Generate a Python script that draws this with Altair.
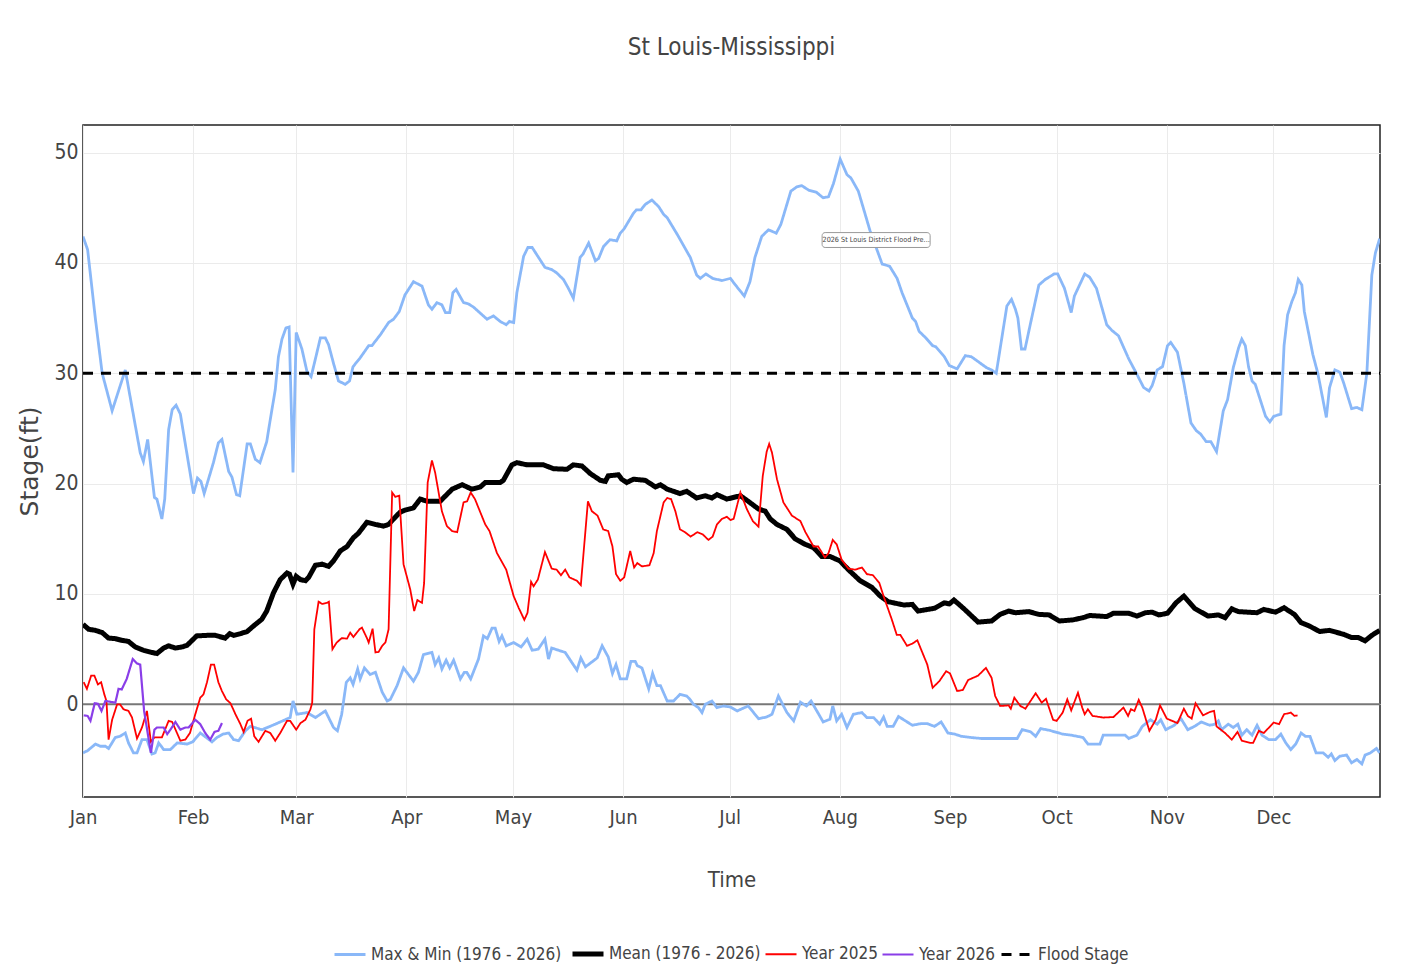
import altair as alt
import pandas as pd

# ---------------- data (day of year, 0 = Jan 1; leap-year calendar) ----------------
MAX_DAYS = [0, 1.3, 3.5, 5.4, 8.2, 11.9, 16.1, 17.0, 18.2, 20.1, 20.8, 22.2, 23.0, 24.1, 25.1, 26.2, 27.4,
            31.1, 32.2, 33.2, 34.1, 36.7, 38.1, 39.1, 41.0, 41.9, 43.2, 44.1, 46.2, 47.1, 48.5, 49.8, 51.7,
            52.7, 54.1, 55.0, 56.0, 57.1, 58.0, 59.1, 60.0, 61.6, 63.0, 64.2, 65.4, 66.8, 68.2, 69.1, 70.5,
            71.9, 73.8, 75.0, 76.0, 78.0, 80.4, 81.3, 83.7, 86.0, 87.4, 89.0, 90.6, 93.0, 95.4, 97.2, 98.2,
            99.6, 101.0, 102.0, 103.2, 104.1, 105.0, 107.1, 108.4, 109.9, 113.7, 115.5, 117.4, 119.1, 120.0,
            121.2, 122.1, 124.0, 125.2, 126.4, 130.0, 131.9, 133.3, 135.2, 136.6, 138.0, 139.9, 140.7, 142.3,
            144.2, 145.1, 146.5, 148.3, 150.2, 151.2, 152.3, 154.9, 155.7, 157.0, 158.2, 160.1, 162.0, 163.4,
            164.4, 167.2, 170.9, 172.7, 173.7, 175.3, 177.2, 179.8, 182.2, 183.6, 186.1, 187.7, 189.1, 191.0,
            192.9, 195.1, 196.4, 199.2, 200.9, 202.3, 204.2, 206.4, 208.3, 209.8, 211.2, 213.1, 215.0, 216.1,
            218.2, 221.5, 224.9, 227.0, 229.1, 230.5, 233.4, 234.3, 235.3, 237.2, 239.1, 240.0, 242.4, 243.8,
            246.0, 248.3, 250.0, 254.3, 255.7, 257.0, 260.0, 261.3, 262.4, 263.1, 264.1, 265.1, 266.7, 269.0,
            270.8, 273.3, 274.3, 276.2, 278.1, 279.0, 281.9, 283.3, 285.2, 288.1, 289.5, 291.4, 294.3, 296.6,
            298.5, 300.0, 300.9, 302.3, 303.8, 305.2, 306.1, 308.0, 309.8, 311.8, 313.3, 314.5, 316.1, 317.4,
            319.0, 320.9, 322.1, 323.7, 325.2, 326.1, 327.1, 328.0, 329.0, 329.9, 332.8, 334.0, 335.1, 337.1,
            338.0, 339.0, 340.2, 341.2, 342.0, 343.0, 343.7, 346.1, 347.5, 349.9, 350.8, 352.3, 353.7, 354.8,
            357.0, 358.5, 359.9, 361.3, 362.7, 363.7, 364.9]
MAX_VALS = [42.4, 41.2, 34.9, 30.0, 26.6, 30.3, 22.8, 22.0, 24.0, 18.75, 18.6, 16.8, 18.6, 24.9, 26.7, 27.1, 26.3,
            19.1, 20.5, 20.2, 19.1, 21.9, 23.7, 24.0, 21.1, 20.6, 19.0, 18.9, 23.6, 23.6, 22.2, 21.9, 23.8,
            25.8, 28.5, 31.5, 33.1, 34.1, 34.2, 21.0, 33.7, 32.2, 30.2, 29.7, 31.3, 33.2, 33.2, 32.6, 30.9,
            29.3, 29.0, 29.3, 30.6, 31.4, 32.5, 32.5, 33.5, 34.6, 34.9, 35.6, 37.1, 38.3, 37.9, 36.2, 35.8,
            36.4, 36.2, 35.5, 35.5, 37.3, 37.6, 36.4, 36.3, 36.0, 34.9, 35.2, 34.7, 34.4, 34.7,
            34.6, 37.3, 40.6, 41.4, 41.4, 39.6, 39.4, 39.1, 38.5, 37.7, 36.8, 40.5, 40.8, 41.8,
            40.2, 40.4, 41.5, 42.1, 42.0, 42.7, 43.1, 44.5, 44.8, 44.8, 45.3, 45.7, 45.1, 44.4,
            44.1, 42.6, 40.5, 38.9, 38.6, 39.0, 38.6, 38.4, 38.6, 38.0, 37.0, 38.3, 40.5, 42.4,
            43.0, 42.7, 43.5, 46.5, 46.9, 47.0, 46.6, 46.4, 45.9, 46.0, 47.2, 49.4, 48.0, 47.7,
            46.5, 42.9, 39.9, 39.7, 38.6, 37.3, 35.0, 34.7, 33.8, 33.2, 32.5, 32.4, 31.5, 30.7,
            30.4, 31.6, 31.5, 30.5, 30.3, 30.0, 36.1, 36.7, 35.8, 35.0, 32.2, 32.2, 34.6, 38.0,
            38.5, 39.0, 39.0, 37.7, 35.5, 37.0, 39.0, 38.7, 37.7, 34.4, 33.9, 33.4, 31.3, 29.9,
            28.7, 28.4, 28.9, 30.3, 30.6, 32.5, 32.8, 31.9, 29.1, 25.5, 24.8, 24.5, 23.8, 23.8,
            22.9, 26.6, 27.6, 30.5, 32.3, 33.1, 32.5, 30.6, 29.3, 29.0, 26.1, 25.6, 26.1, 26.3,
            32.5, 35.3, 36.5, 37.3, 38.5, 38.0, 35.6, 31.7, 30.0, 26.0, 28.7, 30.3, 30.1, 29.1,
            26.8, 26.9, 26.7, 30.0, 38.9, 40.9, 42.2]

MIN_DAYS = [0, 1.3, 3.5, 4.9, 6.3, 7.2, 9.1, 10.4, 11.9, 12.8, 14.2, 15.2, 16.6, 18.0, 19.4, 20.3, 21.3, 22.7,
            24.6, 26.5, 29.3, 30.9, 33.0, 36.3, 37.7, 39.4, 41.0, 42.4, 43.8, 45.7, 47.1, 50.4, 54.1, 56.9,
            58.3, 59.1, 60.2, 63.0, 65.4, 68.2, 70.5, 71.6, 72.8, 74.1, 75.2, 76.0, 77.3, 78.0, 79.2, 80.8,
            82.3, 84.2, 85.6, 86.5, 88.4, 90.2, 93.0, 94.4, 95.8, 98.2, 99.1, 100.1, 101.0, 102.2, 103.2,
            104.3, 106.2, 107.3, 108.0, 109.1, 111.3, 112.7, 113.8, 115.1, 116.0, 117.1, 117.9, 119.1, 121.2,
            123.3, 125.0, 126.4, 128.1, 130.0, 131.0, 131.9, 135.7, 139.0, 140.1, 141.4, 144.7, 146.1, 147.8,
            149.0, 150.0, 151.2, 153.0, 154.2, 155.4, 156.0, 157.3, 159.2, 160.3, 161.5, 162.5, 164.4, 166.2,
            168.0, 169.9, 170.8, 171.8, 173.2, 174.2, 175.1, 177.0, 178.4, 180.3, 182.2, 184.1, 187.2, 190.1,
            192.4, 193.9, 195.7, 198.1, 200.0, 201.9, 203.6, 204.9, 208.3, 210.2, 211.0, 212.1, 213.5, 215.0,
            216.8, 219.2, 220.6, 222.5, 224.2, 225.3, 226.3, 228.0, 229.5, 233.4, 235.8, 237.6, 239.6, 241.5,
            243.4, 245.3, 247.2, 249.6, 252.9, 262.9, 264.3, 266.7, 268.1, 269.5, 271.9, 275.7, 278.1, 281.4,
            282.8, 286.2, 287.1, 293.3, 294.3, 296.6, 298.1, 300.4, 302.3, 303.3, 304.7, 307.1, 309.0, 310.9,
            312.8, 314.7, 317.1, 318.5, 319.5, 320.4, 322.3, 323.7, 325.0, 326.1, 327.5, 329.0, 330.4, 331.8,
            333.7, 335.6, 337.1, 338.5, 339.9, 341.3, 342.8, 344.0, 345.3, 347.0, 349.0, 350.4, 351.3, 352.3,
            353.7, 355.6, 357.0, 358.5, 359.9, 360.8, 362.3, 364.0, 364.9]
MIN_VALS = [-4.4, -4.2, -3.6, -3.8, -3.8, -4.0, -3.0, -2.9, -2.6, -3.5, -4.4, -4.4, -3.2, -3.2, -4.5, -4.4, -3.5, -4.1,
            -4.1, -3.5, -3.6, -3.4, -2.6, -3.4, -3.0, -2.7, -2.6, -3.2, -3.3, -2.4, -2.0, -2.3, -1.8, -1.4,
            -1.2, 0.3, -0.9, -0.75, -1.2, -0.6, -2.1, -2.4, -0.9, 2.0, 2.4, 1.8, 3.2, 2.3, 3.3, 2.7,
            2.9, 1.1, 0.3, 0.45, 1.7, 3.3, 2.1, 2.9, 4.5, 4.7, 3.6, 4.2, 3.2, 4.0, 3.3,
            4.0, 2.3, 2.9, 2.9, 2.3, 4.1, 6.2, 5.95, 6.9, 6.9, 5.7, 6.2, 5.3, 5.6,
            5.2, 5.9, 4.9, 5.0, 5.9, 4.1, 5.1, 4.7, 3.1, 4.2, 3.4, 4.2, 5.3, 4.3,
            2.8, 3.6, 2.3, 2.3, 3.9, 3.9, 3.5, 3.3, 1.4, 2.8, 1.7, 1.7, 0.3, 0.3,
            0.9, 0.75, 0.45, 0.0, -0.3, -0.75, 0.0, 0.3, -0.3, -0.15, -0.25, -0.6, -0.15, -1.3,
            -1.15, -0.9, 0.75, -0.75, -1.5, 0.2, -0.15, 0.3, -1.6, -1.35, -0.15, -1.5, -0.9, -2.1,
            -0.9, -0.75, -1.2, -1.2, -1.8, -1.15, -2.0, -2.0, -1.1, -1.9, -1.75, -1.75, -2.0, -1.6,
            -2.6, -2.7, -2.9, -3.0, -3.1, -3.1, -2.3, -2.5, -2.9, -2.2, -2.35, -2.7, -2.8, -3.0,
            -3.6, -3.6, -2.8, -2.8, -3.1, -2.8, -2.0, -1.4, -1.8, -1.4, -2.3, -1.9, -1.3, -2.3,
            -2.0, -1.6, -1.9, -1.8, -1.5, -2.3, -1.8, -2.1, -1.8, -2.8, -2.3, -2.8, -1.9, -2.8,
            -3.2, -3.2, -2.7, -3.5, -4.1, -3.6, -2.6, -2.9, -2.9, -4.4, -4.4, -4.8, -4.5, -5.1,
            -4.7, -4.6, -5.3, -5.0, -5.4, -4.6, -4.4, -4.0, -4.4]

MEAN_DAYS = [0, 1.6, 3.5, 5.4, 7.2, 9.1, 10.9, 12.8, 14.7, 17.0, 19.4, 20.8, 22.7, 24.1, 26.0, 27.9, 29.3, 32.0,
             34.9, 37.2, 40.0, 41.3, 42.4, 44.3, 46.2, 48.0, 50.3, 51.7, 53.6, 55.5, 57.4, 58.1, 59.1, 60.0,
             61.2, 62.6, 63.5, 65.4, 67.3, 69.1, 70.5, 72.4, 74.3, 76.1, 77.5, 79.9, 82.3, 84.6, 86.0, 87.4,
             89.2, 90.6, 93.0, 94.9, 96.8, 100.5, 103.9, 106.7, 109.4, 111.8, 113.2, 117.4, 118.3, 120.7, 122.1,
             125.0, 129.6, 132.4, 136.2, 138.0, 140.4, 142.8, 145.6, 147.0, 147.8, 150.7, 151.6, 153.0, 154.9,
             158.2, 161.1, 162.5, 164.4, 168.0, 169.9, 172.7, 175.1, 177.0, 178.4, 181.2, 185.0, 187.2, 190.1,
             192.0, 193.4, 195.3, 198.1, 200.4, 203.2, 205.6, 207.9, 210.2, 213.0, 215.4, 218.7, 222.0, 224.4,
             226.6, 231.0, 233.4, 235.0, 239.6, 242.4, 243.8, 245.1, 247.6, 249.1, 251.9, 255.7, 258.1, 260.5,
             262.4, 266.2, 269.0, 271.9, 274.8, 278.6, 281.4, 283.3, 288.1, 290.0, 294.3, 296.6, 299.0, 300.9,
             302.8, 305.2, 307.6, 309.8, 312.8, 316.6, 319.5, 321.4, 323.3, 325.2, 330.4, 332.3, 335.6, 338.0,
             340.9, 342.8, 345.1, 348.0, 350.8, 354.7, 357.0, 358.9, 360.8, 362.7, 364.9]
MEAN_VALS = [7.25, 6.8, 6.7, 6.5, 6.0, 5.95, 5.8, 5.7, 5.2, 4.9, 4.7, 4.6, 5.1, 5.3, 5.1, 5.2, 5.35, 6.2,
             6.25, 6.25, 6.0, 6.4, 6.25, 6.4, 6.6, 7.1, 7.7, 8.45, 10.1, 11.3, 11.9, 11.8, 10.9, 11.6,
             11.3, 11.2, 11.5, 12.6, 12.7, 12.5, 13.0, 13.9, 14.3, 15.1, 15.5, 16.5, 16.3, 16.15, 16.3, 16.8,
             17.4, 17.6, 17.8, 18.6, 18.4, 18.4, 19.5, 19.9, 19.5, 19.7, 20.1, 20.1, 20.3, 21.7, 21.9,
             21.7, 21.7, 21.35, 21.3, 21.7, 21.6, 20.9, 20.3, 20.2, 20.7, 20.8, 20.4, 20.1, 20.4,
             20.3, 19.7, 19.9, 19.5, 19.1, 19.3, 18.7, 18.9, 18.7, 19.0, 18.6, 18.9, 18.4, 17.7,
             17.5, 16.8, 16.3, 15.85, 15.0, 14.5, 14.2, 13.4, 13.4, 13.0, 12.2, 11.2, 10.6, 9.8,
             9.3, 9.0, 9.05, 8.45, 8.7, 9.2, 9.1, 9.45, 8.75, 8.3, 7.45, 7.55, 8.15, 8.45,
             8.3, 8.4, 8.15, 8.1, 7.55, 7.65, 7.85, 8.05, 7.95, 8.25, 8.25, 8.0, 8.3, 8.35,
             8.1, 8.25, 9.2, 9.8, 8.7, 8.0, 8.1, 7.85, 8.65, 8.4, 8.3, 8.6, 8.35, 8.75,
             8.15, 7.4, 7.1, 6.6, 6.7, 6.35, 6.05, 6.05, 5.75, 6.25, 6.7]

Y2025_DAYS = [0.2, 1.1, 2.3, 3.2, 4.2, 5.1, 6.0, 6.6, 7.2, 8.2, 9.6, 10.4, 11.4, 12.8, 13.8, 15.2, 16.6, 18.0,
              19.1, 20.1, 22.2, 24.1, 25.1, 27.4, 28.8, 30.1, 31.6, 33.0, 33.9, 34.9, 36.0, 36.9, 38.1, 39.1,
              40.3, 41.5, 42.9, 44.3, 45.2, 46.3, 47.3, 48.2, 49.4, 51.3, 52.7, 54.1, 55.5, 57.4, 58.3, 60.0,
              61.2, 62.6, 64.0, 64.5, 65.1, 66.3, 67.3, 68.7, 69.2, 70.2, 71.4, 72.8, 74.3, 75.2, 76.1, 77.8,
              78.5, 79.9, 80.4, 81.5, 82.3, 83.2, 84.2, 85.1, 86.0, 87.0, 87.9, 89.0, 90.2, 92.1, 93.2, 94.1,
              95.4, 96.0, 97.0, 98.2, 99.1, 101.0, 102.4, 103.9, 105.3, 107.1, 108.1, 109.1, 110.3, 113.2, 114.4,
              116.5, 119.1, 121.2, 122.6, 124.2, 125.1, 126.1, 126.8, 128.0, 130.0, 131.9, 133.3, 134.5, 135.7,
              136.9, 139.0, 140.1, 142.1, 143.2, 144.8, 146.4, 147.8, 149.0, 150.0, 151.2, 152.3, 154.0, 155.1,
              156.0, 157.3, 159.4, 160.6, 161.5, 163.4, 164.4, 165.5, 166.7, 168.0, 169.4, 171.0, 172.9, 174.4,
              176.0, 177.2, 178.4, 179.8, 181.2, 182.2, 183.1, 185.0, 186.8, 188.5, 190.1, 191.3, 192.4, 193.1,
              193.9, 195.3, 197.1, 199.5, 201.9, 203.3, 205.6, 206.9, 208.8, 209.8, 211.0, 212.1, 213.5, 215.4,
              217.3, 219.2, 220.6, 222.3, 224.1, 225.3, 227.6, 229.0, 230.0, 231.9, 233.4, 234.8, 237.6, 239.1,
              241.0, 242.9, 244.0, 246.0, 247.6, 249.1, 251.9, 254.1, 255.7, 256.7, 258.1, 260.5, 261.1, 262.1,
              263.8, 265.2, 268.1, 269.8, 271.0, 273.0, 274.0, 275.7, 277.0, 278.1, 280.0, 281.2, 281.9, 282.8,
              284.1, 287.1, 290.0, 292.8, 294.1, 294.9, 295.9, 297.1, 298.1, 300.1, 301.9, 303.1, 305.0, 308.0,
              309.8, 310.9, 312.0, 313.1, 315.2, 317.1, 318.3, 319.0, 321.4, 323.3, 324.9, 326.1, 328.5, 329.3,
              330.9, 332.3, 335.1, 336.6, 338.0, 339.9, 340.9, 341.8]
Y2025_VALS = [2.0, 1.4, 2.6, 2.6, 1.8, 2.0, 0.9, 0.3, -3.2, -1.4, 0.0, 0.0, -0.45, -0.6, -1.2, -3.1, -2.1, -0.6,
              -3.4, -3.0, -3.0, -1.5, -1.6, -3.3, -3.2, -2.6, -0.9, 0.6, 0.9, 2.0, 3.6, 3.6, 2.0, 1.2,
              0.45, 0.1, -0.9, -1.8, -2.5, -1.5, -1.3, -2.9, -3.4, -2.4, -2.6, -3.3, -2.6, -1.5, -1.5, -2.3,
              -1.7, -1.4, -0.45, 0.15, 6.8, 9.3, 9.1, 9.2, 9.3, 5.0, 5.6, 6.0, 5.95, 6.5, 6.1, 6.8,
              6.95, 6.0, 5.6, 6.85, 4.7, 4.75, 5.3, 5.6, 6.8, 19.2, 18.8, 18.9, 12.7, 10.4, 8.45, 9.45,
              9.2, 11.0, 20.1, 22.1, 21.0, 17.5, 16.15, 15.7, 15.6, 18.3, 18.4, 19.2, 18.6, 16.3, 15.7,
              13.7, 12.2, 9.8, 8.75, 7.65, 8.3, 11.1, 10.7, 11.3, 13.8, 12.3, 12.2, 11.7, 12.2,
              11.5, 11.2, 10.8, 18.4, 17.5, 17.1, 15.85, 15.7, 14.3, 11.8, 11.2, 11.5, 13.9, 12.4,
              12.8, 12.5, 12.6, 13.7, 15.7, 18.3, 18.7, 18.6, 17.5, 15.85, 15.6, 15.2, 15.6, 15.4,
              14.9, 15.2, 16.3, 16.8, 17.0, 16.7, 16.8, 19.2, 17.7, 16.6, 16.1, 20.7, 22.9, 23.6,
              22.8, 20.4, 18.3, 17.1, 16.6, 15.6, 14.3, 14.3, 13.3, 13.7, 14.9, 14.5, 13.1, 12.3,
              12.2, 12.4, 11.8, 11.7, 11.0, 9.8, 7.7, 6.3, 6.3, 5.3, 5.5, 5.8, 3.6, 1.5,
              2.1, 3.0, 2.8, 1.2, 1.3, 2.2, 2.6, 3.3, 2.4, 0.75, -0.15, -0.1, -0.4, 0.6,
              -0.15, -0.4, 1.0, 0.15, 0.5, -1.4, -1.5, -0.75, 0.45, -0.55, 1.05, -0.3, -0.9, -0.45,
              -1.05, -1.2, -1.15, -0.3, -1.05, -0.45, -0.6, 0.4, -0.3, -2.4, -1.4, -0.1, -1.3, -1.7,
              -0.4, -1.05, -1.3, 0.1, -1.0, -0.7, -0.6, -2.0, -2.6, -3.2, -2.5, -3.3, -3.5, -3.5,
              -2.4, -2.6, -1.65, -1.8, -0.9, -0.75, -1.05, -1.0]

Y2026_DAYS = [0.2, 1.3, 2.1, 3.3, 4.2, 5.2, 6.3, 8.2, 9.1, 10.0, 10.9, 12.3, 14.0, 15.2, 16.1, 17.2, 19.1, 20.1,
              20.8, 22.7, 23.7, 24.6, 26.0, 27.4, 28.8, 29.7, 31.6, 33.0, 34.4, 35.8, 37.0, 38.1, 39.1]
Y2026_VALS = [-1.0, -1.05, -1.5, 0.1, 0.05, -0.6, 0.3, 0.2, 0.15, 1.4, 1.35, 2.3, 4.1, 3.7, 3.6, -0.6, -4.4, -2.3,
              -2.1, -2.1, -2.7, -2.3, -1.6, -2.3, -2.1, -2.1, -1.4, -1.8, -2.6, -3.2, -2.5, -2.4, -1.7]

FLOOD_STAGE = 30
FLOOD_DAYS = [0, 365]

SERIES = ["Max & Min (1976 - 2026)", "Mean (1976 - 2026)", "Year 2025", "Year 2026", "Flood Stage"]
COLORS = ["#8ab8f8", "#000000", "#ff0000", "#8a3ee8", "#000000"]
WIDTHS = [2.8, 5.0, 1.8, 2.2, 3.0]
DASHES = [[1, 0], [1, 0], [1, 0], [1, 0], [10, 8]]
MONTHS = list(range(1, 13))

NOTE_TEXT = "2026 St Louis District Flood Pre..."
NOTE_DAYS = [208.0, 238.4]
NOTE_VALS = [41.4, 42.75]

YEAR0 = pd.Timestamp("2024-01-01")
NARROW = "DejaVu Sans Condensed, Liberation Sans Narrow, sans-serif"


def to_dates(days):
    return [YEAR0 + pd.to_timedelta(d, unit="D") for d in days]


frames = []
frames.append(pd.DataFrame({"date": to_dates(MAX_DAYS), "value": MAX_VALS,
                            "series": SERIES[0], "part": "max"}))
frames.append(pd.DataFrame({"date": to_dates(MIN_DAYS), "value": MIN_VALS,
                            "series": SERIES[0], "part": "min"}))
frames.append(pd.DataFrame({"date": to_dates(MEAN_DAYS), "value": MEAN_VALS,
                            "series": SERIES[1], "part": "mean"}))
frames.append(pd.DataFrame({"date": to_dates(Y2025_DAYS), "value": Y2025_VALS,
                            "series": SERIES[2], "part": "y2025"}))
frames.append(pd.DataFrame({"date": to_dates(Y2026_DAYS), "value": Y2026_VALS,
                            "series": SERIES[3], "part": "y2026"}))
frames.append(pd.DataFrame({"date": to_dates(FLOOD_DAYS), "value": [FLOOD_STAGE] * 2,
                            "series": SERIES[4], "part": "flood"}))
df = pd.concat(frames, ignore_index=True)

note_df = pd.DataFrame({"d1": [to_dates(NOTE_DAYS)[0]], "d2": [to_dates(NOTE_DAYS)[1]],
                        "v1": [NOTE_VALS[0]], "v2": [NOTE_VALS[1]],
                        "dm": [YEAR0 + pd.to_timedelta(sum(NOTE_DAYS) / 2, unit="D")],
                        "vm": [sum(NOTE_VALS) / 2], "label": [NOTE_TEXT]})
zero_df = pd.DataFrame({"value": [0]})

x_scale = alt.Scale(domain=[alt.DateTime(year=2024, month=1, date=1),
                            alt.DateTime(year=2024, month=12, date=31)])
y_scale = alt.Scale(domain=[-8.4, 52.5], nice=False, zero=False)

x_axis = alt.Axis(values=[alt.DateTime(year=2024, month=m, date=1) for m in MONTHS],
                  format="%b", title="Time", grid=True, gridColor="#ebebeb", ticks=False,
                  domain=False, labelFlush=False, labelFont=NARROW, labelFontSize=20,
                  labelColor="#444", labelPadding=10, titleFont=NARROW, titleFontSize=22,
                  titleColor="#444", titleFontWeight="normal", titleY=89,
                  titleBaseline="alphabetic")
y_axis = alt.Axis(values=[0, 10, 20, 30, 40, 50], title="Stage(ft)", grid=True, gridColor="#ebebeb",
                  ticks=False, domain=False, labelFont=NARROW, labelFontSize=21, labelColor="#444",
                  labelPadding=5, titleFont="DejaVu Sans", titleFontSize=25, titleColor="#444",
                  titleFontWeight="normal", titleX=-54, titleY=336, titleAngle=-90,
                  titleAlign="center", titleBaseline="middle")

legend = alt.Legend(title=None, orient="none", direction="horizontal", columns=5,
                    legendX=249, legendY=811, symbolType="stroke", symbolSize=961,
                    labelFont=NARROW, labelFontSize=17, labelColor="#444", labelLimit=400,
                    labelOffset=3, columnPadding=0, padding=0)

color = alt.Color("series:N", scale=alt.Scale(domain=SERIES, range=COLORS), legend=legend)
width = alt.StrokeWidth("series:N", scale=alt.Scale(type="ordinal", domain=SERIES, range=WIDTHS),
                        legend=legend)
dash = alt.StrokeDash("series:N", scale=alt.Scale(domain=SERIES, range=DASHES), legend=legend)

base = alt.Chart(df)


def series_layer(name):
    return base.transform_filter(alt.datum.series == name).mark_line(clip=True).encode(
        x=alt.X("date:T", scale=x_scale, axis=x_axis),
        y=alt.Y("value:Q", scale=y_scale, axis=y_axis),
        color=color, strokeWidth=width, strokeDash=dash,
        detail="part:N",
    )


zero_rule = alt.Chart(zero_df).mark_rule(color="#777", strokeWidth=2).encode(
    y=alt.Y("value:Q", scale=y_scale, axis=y_axis))

note_box = alt.Chart(note_df).mark_rect(fill="white", stroke="#999", strokeWidth=1,
                                        cornerRadius=3).encode(
    x=alt.X("d1:T", scale=x_scale, axis=x_axis), x2="d2:T",
    y=alt.Y("v1:Q", scale=y_scale, axis=y_axis), y2="v2:Q")
note_text = alt.Chart(note_df).mark_text(font=NARROW, fontSize=7.2, color="#444").encode(
    x=alt.X("dm:T", scale=x_scale, axis=x_axis),
    y=alt.Y("vm:Q", scale=y_scale, axis=y_axis), text="label:N")

chart = alt.layer(
    zero_rule,
    *[series_layer(s) for s in SERIES],
    note_box, note_text,
).properties(
    width=1297, height=672,
    padding={"left": 75, "top": 117, "right": 14, "bottom": 172},
    autosize=alt.AutoSizeParams(type="none"),
    title=alt.TitleParams("St Louis-Mississippi", font=NARROW, fontSize=24, color="#444",
                          fontWeight="normal", anchor="middle", frame="group", offset=46,
                          baseline="alphabetic"),
).configure(background="white").configure_view(stroke="#222", strokeWidth=1.5)

chart.save("out.html", embed_options={"renderer": "svg", "actions": False})
